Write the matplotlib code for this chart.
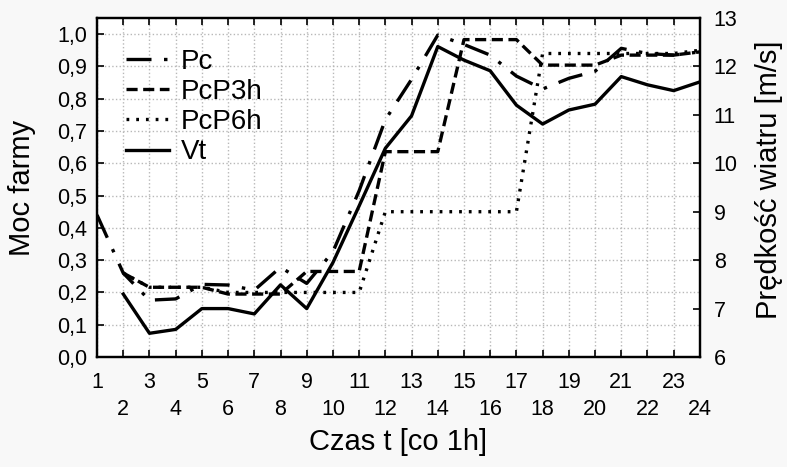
import matplotlib
matplotlib.use("Agg")
import matplotlib.pyplot as plt
import numpy as np

plt.rcParams['font.family'] = ['Liberation Sans', 'DejaVu Sans']
plt.rcParams['lines.scale_dashes'] = False

# data
hours = list(range(1, 25))
pc = [0.44, 0.26, 0.176, 0.18, 0.225, 0.223, 0.207, 0.278, 0.228, 0.326, 0.515, 0.735,
      0.86, 0.997, 0.968, 0.935, 0.87, 0.83, 0.863, 0.885, 0.956, 0.94, 0.935, 0.945]
pcp3h = [np.nan, 0.26, 0.216, 0.216, 0.216, 0.195, 0.195, 0.195, 0.265, 0.265, 0.265, 0.636,
         0.636, 0.636, 0.983, 0.983, 0.983, 0.904, 0.904, 0.904, 0.935, 0.935, 0.935, 0.945]
pcp6h = [np.nan, 0.26, 0.216, 0.216, 0.216, 0.2, 0.2, 0.2, 0.2, 0.2, 0.2, 0.45,
         0.45, 0.45, 0.45, 0.45, 0.45, 0.94, 0.94, 0.94, 0.94, 0.94, 0.94, 0.95]
vt = [np.nan, 7.30, 6.49, 6.57, 7.0, 7.0, 6.89, 7.49, 7.0, 7.95, 9.12, 10.31,
      10.98, 12.41, 12.13, 11.91, 11.2, 10.81, 11.10, 11.22, 11.79, 11.62, 11.50, 11.68]

left_ticks = [0.0, 0.1, 0.2, 0.3, 0.4, 0.5, 0.6, 0.7, 0.8, 0.9, 1.0]
right_ticks = [6, 7, 8, 9, 10, 11, 12, 13]

fig = plt.figure(figsize=(7.87, 4.67), dpi=100, facecolor='#f8f8f8')
ax = fig.add_axes([0.1233, 0.2355, 0.766, 0.726])
ax.set_facecolor('white')
ax2 = ax.twinx()

# curves
l1, = ax.plot(hours, pc, color='black', lw=2.4, linestyle=(0, (18, 9, 2.5, 9)),
              dash_capstyle='butt', label='Pc')
l2, = ax.plot(hours, pcp3h, color='black', lw=2.4, linestyle=(0, (8, 4)),
              dash_capstyle='butt', label='PcP3h')
l3, = ax.plot(hours, pcp6h, color='black', lw=2.4, linestyle=(0, (2, 5)),
              dash_capstyle='butt', label='PcP6h')
l4, = ax2.plot(hours, vt, color='black', lw=2.4, label='Vt')

# Ox
ax.set_xlim(1, 24)
ax.set_xticks(hours)
ax.set_xticklabels([str(h) if h % 2 else '\n' + str(h) for h in hours], fontsize=15.5,
                   linespacing=1.35)

# Oy
ax.set_ylim(0, 1.05)
ax.set_yticks(left_ticks)
ax.set_yticklabels([f"{v:.1f}".replace('.', ',') for v in left_ticks], fontsize=15.5)
ax2.set_ylim(6, 13)
ax2.set_yticks(right_ticks)
ax2.set_yticklabels([str(v) for v in right_ticks], fontsize=15.5)

ax.tick_params(axis='x', direction='in', length=5, width=1.2, top=True, pad=11)
ax.tick_params(axis='y', direction='in', length=5, width=1.2, pad=7)
ax2.tick_params(axis='y', direction='in', length=5, width=1.2, pad=10)
for a in (ax, ax2):
    for s in a.spines.values():
        s.set_linewidth(1.6)

# grid
ax.grid(True, linestyle=':', linewidth=1.0, color='#b8b8b8')
ax.set_axisbelow(True)

# labels
ax.set_xlabel("Czas t [co 1h]", fontsize=21)
ax.xaxis.set_label_coords(0.5, -0.21)
ax.set_ylabel("Moc farmy", fontsize=21)
ax.yaxis.set_label_coords(-0.101, 0.5)
ax2.set_ylabel("Prędkość wiatru [m/s]", fontsize=21)
ax2.yaxis.set_label_coords(1.091, 0.522)

# legend
ax2.legend(handles=[l1, l2, l3, l4], loc='upper left', bbox_to_anchor=(0.02, 0.958),
           frameon=False, fontsize=20, handlelength=1.55, handletextpad=0.43,
           labelspacing=0.15, borderaxespad=0.2)

fig.savefig("out.png", dpi=100, facecolor=fig.get_facecolor())
